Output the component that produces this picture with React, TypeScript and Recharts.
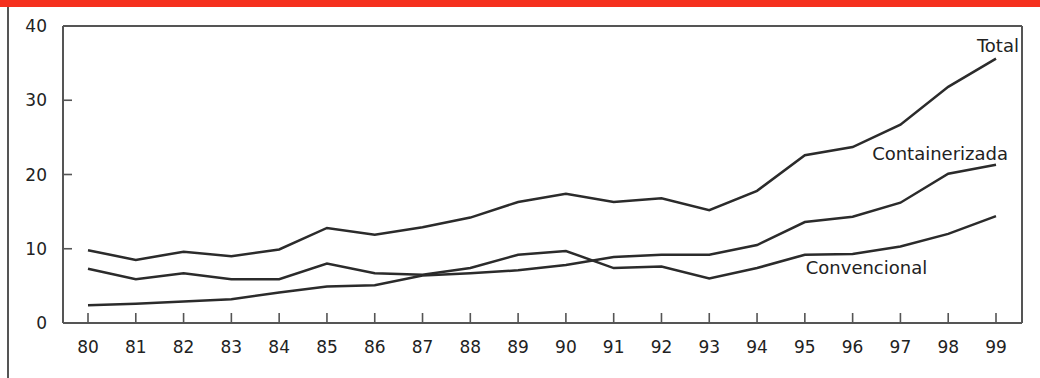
import React from 'react';
import { LineChart, Line, XAxis, YAxis, ReferenceDot, ReferenceLine } from 'recharts';

const years = [80, 81, 82, 83, 84, 85, 86, 87, 88, 89, 90, 91, 92, 93, 94, 95, 96, 97, 98, 99];
const total = [9.8, 8.5, 9.6, 9.0, 9.9, 12.8, 11.9, 12.9, 14.2, 16.3, 17.4, 16.3, 16.8, 15.2, 17.8, 22.6, 23.7, 26.7, 31.8, 35.6];
const convencional = [7.3, 5.9, 6.7, 5.9, 5.9, 8.0, 6.7, 6.5, 7.4, 9.2, 9.7, 7.4, 7.6, 6.0, 7.4, 9.2, 9.3, 10.3, 12.0, 14.4];
const containerizada = [2.4, 2.6, 2.9, 3.2, 4.1, 4.9, 5.1, 6.4, 6.7, 7.1, 7.8, 8.9, 9.2, 9.2, 10.5, 13.6, 14.3, 16.2, 20.1, 21.3];
const yTicks = [0, 10, 20, 30, 40];

const data = years.map((y, i) => ({
  year: y,
  total: total[i],
  convencional: convencional[i],
  containerizada: containerizada[i],
}));

const FONT = '"DejaVu Sans", sans-serif';
const AXIS = '#555';
const LINE = '#2b2b2b';
const TXT = '#222';

const X_MARGIN = 18;
const Y_MARGIN = 16;

const lbl = (value: string) => ({
  value,
  position: 'center' as const,
  fill: TXT,
  fontSize: 18,
  fontFamily: FONT,
});

const XTick = (props: any) => {
  const x = Number(props.x);
  const y = Number(props.y);
  const base = y - X_MARGIN;
  return (
    <g className="x-tick">
      <rect x={x - 0.8} y={base - 10} width={1.6} height={10} fill={AXIS} stroke="none" />
      <text x={x} y={y} dy="0.71em" textAnchor="middle" fill={TXT} fontSize={17} fontFamily={FONT}>
        {props.payload.value}
      </text>
    </g>
  );
};

const YTick = (props: any) => {
  const x = Number(props.x);
  const y = Number(props.y);
  const v = props.payload.value;
  const base = x + Y_MARGIN;
  const inner = v !== 0 && v !== 40;
  return (
    <g className="y-tick">
      {inner ? <rect x={base} y={y - 0.8} width={9} height={1.6} fill={AXIS} stroke="none" /> : null}
      <text x={x} y={y} dy="0.355em" textAnchor="end" fill={TXT} fontSize={17} fontFamily={FONT}>
        {v}
      </text>
    </g>
  );
};

export default function App() {
  return (
    <div style={{ position: 'absolute', left: 0, top: 0, width: 1040, height: 378, background: '#fff' }}>
      <div style={{ position: 'absolute', left: 0, top: 0, width: 1040, height: 7, background: '#f5301e' }} />
      <div style={{ position: 'absolute', left: 7, top: 7, width: 2, height: 371, background: '#555' }} />
      <div style={{ position: 'absolute', left: 0, top: 0 }}>
        <LineChart
          width={1040}
          height={378}
          data={data}
          margin={{ top: 25, right: 17, bottom: 54, left: 62 }}
        >
          <XAxis
            dataKey="year"
            type="number"
            domain={[80, 99]}
            ticks={years}
            interval={0}
            padding={{ left: 25, right: 26 }}
            height={1}
            tickSize={0}
            tickMargin={X_MARGIN}
            axisLine={{ stroke: AXIS, strokeWidth: 2 }}
            tickLine={false}
            tick={XTick}
          />
          <XAxis
            xAxisId="top"
            orientation="top"
            dataKey="year"
            type="number"
            domain={[80, 99]}
            height={1}
            tick={false}
            tickLine={false}
            axisLine={{ stroke: AXIS, strokeWidth: 2 }}
          />
          <YAxis
            domain={[0, 40]}
            ticks={yTicks}
            width={1}
            tickSize={0}
            tickMargin={Y_MARGIN}
            axisLine={{ stroke: AXIS, strokeWidth: 2 }}
            tickLine={false}
            tick={YTick}
          />
          <YAxis
            yAxisId="right"
            orientation="right"
            domain={[0, 40]}
            width={1}
            tick={false}
            tickLine={false}
            axisLine={{ stroke: AXIS, strokeWidth: 2 }}
          />
          <Line dataKey="total" stroke={LINE} strokeWidth={2.5} dot={false} isAnimationActive={false} />
          <Line dataKey="convencional" stroke={LINE} strokeWidth={2.5} dot={false} isAnimationActive={false} />
          <Line dataKey="containerizada" stroke={LINE} strokeWidth={2.5} dot={false} isAnimationActive={false} />
          <ReferenceDot x={99.04} y={37.3} r={0} fill="none" stroke="none" ifOverflow="visible" label={lbl('Total')} />
          <ReferenceDot x={97.83} y={22.76} r={0} fill="none" stroke="none" ifOverflow="visible" label={lbl('Containerizada')} />
          <ReferenceDot x={96.29} y={7.47} r={0} fill="none" stroke="none" ifOverflow="visible" label={lbl('Convencional')} />
        </LineChart>
      </div>
    </div>
  );
}
